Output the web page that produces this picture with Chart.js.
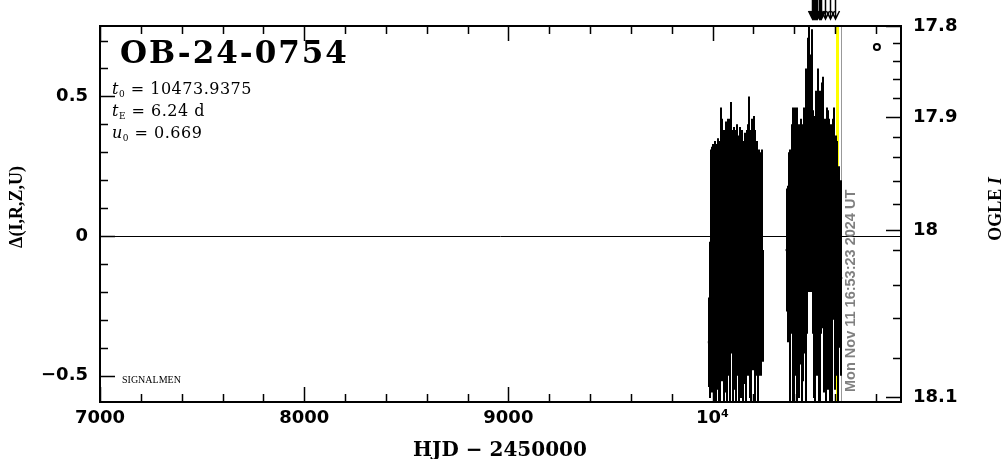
<!DOCTYPE html>
<html>
<head>
<meta charset="utf-8">
<script src="https://cdn.jsdelivr.net/npm/chart.js@4.4.1/dist/chart.umd.min.js"></script>
<style>
  body { margin: 0; background: #fff; }
  canvas { display: block; }
</style>
</head>
<body>
<canvas id="chart" width="1004" height="459"></canvas>
<script>
// photometry: HJD-2450000, delta flux, error
const hjd1 = [9982, 9988, 9994, 9998, 10002, 10006, 10010, 10014, 10018, 10022, 10026, 10030, 10034, 10038, 10042, 10046,
  10050, 10054, 10058, 10062, 10066, 10070, 10074, 10078, 10082, 10086, 10090, 10094, 10098, 10102, 10106, 10110,
  10114, 10118, 10122, 10126, 10130, 10134, 10138, 10142, 10146, 10150, 10154, 10158, 10162, 10166, 10170, 10174,
  10178, 10182, 10186, 10190, 10194, 10198, 10202, 10206, 10210, 10214, 10218, 10222, 10226, 10230, 10234, 10238, 10242, 10246];
const delta1 = [-0.38, -0.30, 0.00, -0.12, 0.05, -0.20, 0.08, -0.08, -0.25, 0.02, -0.10, -0.30, 0.04, -0.15, 0.06, -0.05,
  0.10, -0.18, 0.00, -0.10, 0.05, -0.22, 0.08, -0.05, 0.12, -0.12, 0.10, -0.02, -0.20, 0.05, -0.08, 0.10,
  -0.15, 0.02, -0.06, 0.06, -0.25, 0.03, -0.10, 0.08, -0.02, -0.18, 0.05, -0.08, 0.00, -0.14, 0.06, -0.05,
  0.12, -0.10, 0.00, -0.20, 0.08, -0.04, 0.10, -0.12, 0.02, -0.08, 0.04, -0.15, 0.00, -0.10, -0.02, -0.20, 0.05, -0.25];
const err1 = [0.16, 0.28, 0.31, 0.44, 0.28, 0.50, 0.25, 0.42, 0.45, 0.31, 0.45, 0.40, 0.30, 0.48, 0.40, 0.47,
  0.25, 0.52, 0.38, 0.46, 0.36, 0.55, 0.34, 0.45, 0.30, 0.50, 0.38, 0.40, 0.55, 0.33, 0.47, 0.28,
  0.50, 0.38, 0.44, 0.30, 0.50, 0.36, 0.48, 0.30, 0.40, 0.52, 0.28, 0.45, 0.34, 0.48, 0.32, 0.45,
  0.38, 0.48, 0.36, 0.50, 0.34, 0.44, 0.33, 0.50, 0.34, 0.42, 0.30, 0.46, 0.31, 0.40, 0.30, 0.30, 0.26, 0.20];

const hjd2 = [10363, 10368, 10374, 10379, 10384, 10388, 10392, 10396, 10400, 10404, 10408, 10412, 10416, 10420, 10424, 10428,
  10432, 10436, 10440, 10444, 10448, 10452, 10456, 10460, 10464, 10467, 10470, 10474, 10478, 10482, 10487, 10491,
  10495, 10500, 10504, 10508, 10512, 10516, 10520, 10524, 10528, 10532, 10536, 10541, 10545, 10550, 10555, 10560,
  10565, 10570, 10575, 10580, 10585, 10590, 10595, 10600, 10605, 10610, 10615, 10620, 10625, 10630];
const delta2 = [-0.05, -0.10, 0.00, -0.15, -0.05, 0.05, -0.12, 0.10, -0.20, 0.08, -0.05, 0.12, -0.18, 0.04, -0.10, 0.10,
  -0.02, -0.22, 0.06, -0.06, 0.14, 0.00, 0.20, -0.12, 0.05, 0.28, 0.30, 0.18, 0.25, 0.10, 0.32, 0.05,
  -0.10, 0.08, -0.15, 0.12, -0.05, 0.20, -0.10, 0.10, -0.20, 0.05, 0.15, 0.12, -0.08, 0.02, -0.15, 0.08,
  -0.05, 0.10, -0.12, 0.00, -0.20, 0.06, 0.08, -0.10, 0.00, -0.08, -0.20, 0.00, -0.10, -0.15];
const err2 = [0.22, 0.28, 0.30, 0.46, 0.30, 0.35, 0.48, 0.36, 0.50, 0.38, 0.45, 0.34, 0.52, 0.36, 0.48, 0.30,
  0.44, 0.52, 0.34, 0.46, 0.32, 0.42, 0.40, 0.50, 0.40, 0.43, 0.50, 0.36, 0.40, 0.30, 0.42, 0.40,
  0.48, 0.35, 0.50, 0.40, 0.45, 0.40, 0.50, 0.42, 0.50, 0.40, 0.40, 0.45, 0.48, 0.40, 0.52, 0.38,
  0.50, 0.32, 0.48, 0.40, 0.45, 0.36, 0.38, 0.45, 0.36, 0.42, 0.40, 0.25, 0.30, 0.35];

const hjd = hjd1.concat(hjd2);
const delta = delta1.concat(delta2);
const err = err1.concat(err2);

// axis ticks
const xMajor = [7000, 8000, 9000, 10000];
const yMajor = [-0.5, 0, 0.5];
// OGLE I ticks, placed on the delta axis
const magLabels = ['17.8', '17.9', '18', '18.1'];
const magMajorAt = [0.752, 0.425, 0.021, -0.576];
const magMinorAt = [0.690, 0.628, 0.561, 0.493, 0.356, 0.284, 0.198, 0.1135, -0.05, -0.175, -0.295, -0.438];

// markers
const arrowHJD = [10487, 10492, 10497, 10502, 10507, 10513, 10519, 10525, 10531, 10552, 10577, 10600];
const nowHJD = 10612;
const lastHJD = 10630;
const circleHJD = [10805];
const circleDelta = [0.677];

const params = [['t', '0', ' = 10473.9375'], ['t', 'E', ' = 6.24 d'], ['u', '0', ' = 0.669']];
const stamp = 'Mon Nov 11 16:53:23 2024 UT';

const tickFont = { family: 'DejaVu Sans', weight: 'bold', size: 18 };

const decor = {
  id: 'decor',
  beforeDatasetsDraw(chart) {
    const { ctx, chartArea: a, scales: { x, y } } = chart;
    ctx.save();
    ctx.beginPath();
    ctx.rect(a.left, a.top, a.right - a.left, a.bottom - a.top);
    ctx.clip();
    // zero line
    ctx.strokeStyle = '#000';
    ctx.lineWidth = 1;
    ctx.beginPath();
    ctx.moveTo(a.left, Math.round(y.getPixelForValue(0)) + 0.5);
    ctx.lineTo(a.right, Math.round(y.getPixelForValue(0)) + 0.5);
    ctx.stroke();
    // now line
    ctx.fillStyle = '#ffff00';
    const nx = x.getPixelForValue(nowHJD);
    ctx.fillRect(nx - 1.5, a.top, 3, a.bottom - a.top);
    ctx.fillStyle = '#999';
    ctx.fillRect(Math.round(x.getPixelForValue(lastHJD)), a.top, 1, a.bottom - a.top);
    // error bars
    ctx.strokeStyle = '#000';
    ctx.lineWidth = 2;
    ctx.beginPath();
    for (let i = 0; i < hjd.length; i++) {
      const px = Math.round(x.getPixelForValue(hjd[i]));
      ctx.moveTo(px, y.getPixelForValue(delta[i] + err[i]));
      ctx.lineTo(px, y.getPixelForValue(delta[i] - err[i]));
    }
    ctx.stroke();
    ctx.restore();
  },
  afterDraw(chart) {
    const { ctx, chartArea: a, scales: { x, y } } = chart;
    ctx.save();
    ctx.strokeStyle = '#000';
    ctx.lineWidth = 2;
    ctx.strokeRect(a.left, a.top, a.right - a.left, a.bottom - a.top);
    ctx.lineWidth = 1.5;
    ctx.beginPath();
    // x ticks, bottom and top
    for (let v = 7000; v <= 10923; v += 200) {
      const px = Math.round(x.getPixelForValue(v)) + 0.5;
      const len = v % 1000 === 0 ? 15 : 8;
      ctx.moveTo(px, a.bottom); ctx.lineTo(px, a.bottom - len);
      ctx.moveTo(px, a.top); ctx.lineTo(px, a.top + len);
    }
    // left ticks
    for (let k = -5; k <= 7; k++) {
      const py = Math.round(y.getPixelForValue(k / 10)) + 0.5;
      const len = k % 5 === 0 ? 15 : 8;
      ctx.moveTo(a.left, py); ctx.lineTo(a.left + len, py);
    }
    // right ticks (OGLE I)
    magMajorAt.forEach(v => {
      const py = Math.round(y.getPixelForValue(v)) + 0.5;
      ctx.moveTo(a.right, py); ctx.lineTo(a.right - 15, py);
    });
    magMinorAt.forEach(v => {
      const py = Math.round(y.getPixelForValue(v)) + 0.5;
      ctx.moveTo(a.right, py); ctx.lineTo(a.right - 8, py);
    });
    ctx.stroke();

    // arrows above the frame
    ctx.lineWidth = 1.5;
    arrowHJD.forEach(v => {
      const px = Math.round(x.getPixelForValue(v)) + 0.5;
      ctx.beginPath();
      ctx.moveTo(px, 0); ctx.lineTo(px, 19);
      ctx.moveTo(px - 4, 11); ctx.lineTo(px, 19); ctx.lineTo(px + 4, 11);
      ctx.stroke();
    });

    // labels
    ctx.fillStyle = '#000';
    ctx.textAlign = 'left';
    ctx.textBaseline = 'alphabetic';
    ctx.font = 'bold 31px "DejaVu Serif"';
    ctx.letterSpacing = '2px';
    ctx.fillText('OB-24-0754', 120, 63);
    ctx.letterSpacing = '0.5px';

    params.forEach((p, i) => {
      const by = 94 + i * 22;
      let cx = 112;
      ctx.font = 'italic 16px "DejaVu Serif"';
      ctx.fillText(p[0], cx, by);
      cx += ctx.measureText(p[0]).width;
      ctx.font = '9px "DejaVu Serif"';
      ctx.fillText(p[1], cx, by + 3);
      cx += ctx.measureText(p[1]).width;
      ctx.font = '16px "DejaVu Serif"';
      ctx.fillText(p[2], cx, by);
    });
    ctx.letterSpacing = '0px';

    ctx.font = '10px "Liberation Serif"';
    ctx.fillText('SIGNALMEN', 122, 383);

    // axis titles
    ctx.textAlign = 'center';
    ctx.font = 'bold 20px "DejaVu Serif"';
    ctx.fillText('HJD − 2450000', 500, 456);

    ctx.save();
    ctx.translate(22, 207);
    ctx.rotate(-Math.PI / 2);
    ctx.font = 'bold 18px "Liberation Serif"';
    ctx.fillText('Δ(I,R,Z,U)', 0, 0);
    ctx.restore();

    ctx.save();
    ctx.translate(1001, 209);
    ctx.rotate(-Math.PI / 2);
    ctx.textAlign = 'left';
    ctx.font = 'bold 18px "Liberation Serif"';
    const w1 = ctx.measureText('OGLE ').width;
    ctx.font = 'bold italic 18px "Liberation Serif"';
    const w2 = ctx.measureText('I').width;
    ctx.font = 'bold 18px "Liberation Serif"';
    ctx.fillText('OGLE ', -(w1 + w2) / 2, 0);
    ctx.font = 'bold italic 18px "Liberation Serif"';
    ctx.fillText('I', -(w1 + w2) / 2 + w1, 0);
    ctx.restore();

    // time stamp
    ctx.save();
    ctx.translate(855, 392);
    ctx.rotate(-Math.PI / 2);
    ctx.textAlign = 'left';
    ctx.fillStyle = '#808080';
    ctx.font = 'bold 14.5px "Liberation Sans"';
    ctx.fillText(stamp, 0, 0);
    ctx.restore();

    ctx.restore();
  }
};

const ctx = document.getElementById('chart');
const chart = new Chart(ctx, {
  type: 'scatter',
  data: {
    datasets: [{
      data: hjd.map((v, i) => ({ x: v, y: delta[i] })),
      pointStyle: 'rect',
      pointRadius: 1.5,
      backgroundColor: '#000',
      borderWidth: 0
    }, {
      data: circleHJD.map((v, i) => ({ x: v, y: circleDelta[i] })),
      pointStyle: 'circle',
      pointRadius: 3,
      backgroundColor: '#fff',
      borderColor: '#000',
      borderWidth: 2
    }]
  },
  options: {
    responsive: false,
    devicePixelRatio: 1,
    animation: false,
    layout: { padding: { top: 26, left: 0, right: 0, bottom: 0 } },
    plugins: { legend: { display: false }, tooltip: { enabled: false } },
    scales: {
      x: {
        type: 'linear', min: 7000, max: 10923,
        afterBuildTicks: s => { s.ticks = xMajor.map(v => ({ value: v })); },
        afterFit: s => { s.height = 57; },
        grid: { display: false, drawTicks: false },
        border: { display: false },
        ticks: {
          font: tickFont, color: '#000', padding: 6, maxRotation: 0, autoSkip: false,
          callback: v => v === 10000 ? '10⁴' : String(v)
        }
      },
      y: {
        position: 'left', min: -0.594, max: 0.752,
        afterBuildTicks: s => { s.ticks = yMajor.map(v => ({ value: v })); },
        afterFit: s => { s.width = 100; },
        grid: { display: false, drawTicks: false },
        border: { display: false },
        ticks: {
          font: tickFont, color: '#000', padding: 12, autoSkip: false,
          callback: v => v === 0 ? '0' : (v < 0 ? '−' : '') + Math.abs(v)
        }
      },
      y2: {
        position: 'right', min: -0.594, max: 0.752,
        afterBuildTicks: s => { s.ticks = magMajorAt.map(v => ({ value: v })); },
        afterFit: s => { s.width = 103; },
        grid: { display: false, drawTicks: false },
        border: { display: false },
        ticks: {
          font: tickFont, color: '#000', padding: 12, autoSkip: false,
          callback: (v, i) => magLabels[i]
        }
      }
    }
  },
  plugins: [decor]
});
</script>
</body>
</html>
